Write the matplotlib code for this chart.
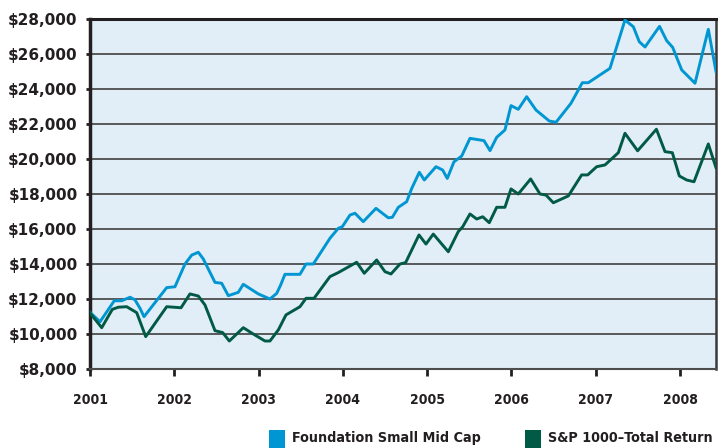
import matplotlib
matplotlib.use("Agg")
import matplotlib.pyplot as plt
from matplotlib import font_manager
from matplotlib.patches import Rectangle
from matplotlib.ticker import FuncFormatter

# growth of $10,000 style values (decimal year, dollars)
fund_t = [2001.000, 2001.119, 2001.288, 2001.376, 2001.475, 2001.534, 2001.593, 2001.641,
          2001.910, 2002.008, 2002.127, 2002.207, 2002.285, 2002.344, 2002.483, 2002.562,
          2002.641, 2002.759, 2002.819, 2002.997, 2003.135, 2003.215, 2003.262, 2003.313,
          2003.491, 2003.563, 2003.649, 2003.847, 2003.946, 2003.993, 2004.085, 2004.144,
          2004.242, 2004.393, 2004.539, 2004.587, 2004.658, 2004.757, 2004.817, 2004.907,
          2004.966, 2005.105, 2005.184, 2005.239, 2005.318, 2005.410, 2005.508, 2005.674,
          2005.746, 2005.825, 2005.923, 2005.995, 2006.081, 2006.181, 2006.291, 2006.449,
          2006.529, 2006.706, 2006.841, 2006.912, 2007.169, 2007.347, 2007.446, 2007.517,
          2007.585, 2007.757, 2007.842, 2007.913, 2008.020, 2008.178, 2008.336, 2008.427]
fund_v = [11240, 10700, 11900, 11900, 12100, 11950, 11470, 10990,
          12650, 12700, 14000, 14510, 14670, 14290, 12950, 12900,
          12190, 12380, 12840, 12290, 12000, 12320, 12800, 13410,
          13410, 14000, 14000, 15470, 16040, 16130, 16800, 16900,
          16420, 17180, 16640, 16670, 17240, 17560, 18320, 19240,
          18800, 19560, 19370, 18890, 19840, 20170, 21180, 21050,
          20480, 21240, 21660, 23050, 22840, 23560, 22800, 22170,
          22100, 23180, 24360, 24360, 25180, 27940, 27560, 26700,
          26400, 27580, 26760, 26380, 25090, 24330, 27410, 25000]

sp_t = [2001.000, 2001.139, 2001.265, 2001.336, 2001.435, 2001.554, 2001.661, 2001.910,
        2002.080, 2002.186, 2002.285, 2002.364, 2002.483, 2002.574, 2002.653, 2002.819,
        2002.937, 2003.076, 2003.135, 2003.234, 2003.325, 2003.491, 2003.563, 2003.658,
        2003.847, 2003.946, 2004.164, 2004.254, 2004.401, 2004.500, 2004.571, 2004.678,
        2004.745, 2004.903, 2004.986, 2005.073, 2005.251, 2005.369, 2005.422, 2005.508,
        2005.588, 2005.659, 2005.737, 2005.825, 2005.923, 2005.995, 2006.081, 2006.228,
        2006.339, 2006.410, 2006.497, 2006.675, 2006.833, 2006.905, 2007.011, 2007.110,
        2007.268, 2007.347, 2007.497, 2007.720, 2007.822, 2007.909, 2007.992, 2008.079,
        2008.166, 2008.336, 2008.427]
sp_v = [11200, 10360, 11410, 11530, 11560, 11220, 9850, 11560,
        11500, 12290, 12170, 11660, 10190, 10080, 9600, 10360,
        10000, 9600, 9600, 10230, 11090, 11560, 12040, 12040,
        13280, 13510, 14100, 13470, 14230, 13560, 13430, 14000,
        14080, 15660, 15140, 15710, 14700, 15850, 16130, 16860,
        16570, 16700, 16360, 17240, 17240, 18290, 18000, 18860,
        18000, 17940, 17500, 17890, 19090, 19090, 19560, 19660,
        20360, 21470, 20470, 21700, 20420, 20360, 19030, 18800,
        18700, 20860, 19500]

years = [2001, 2002, 2003, 2004, 2005, 2006, 2007, 2008]
y_ticks = [8000, 10000, 12000, 14000, 16000, 18000, 20000, 22000, 24000, 26000, 28000]
labels = ["Foundation Small Mid Cap", "S&P 1000\u2013Total Return"]
colors = ["#0096D2", "#005A45"]

# pick a narrow bold face for the year labels and legend
names = {f.name for f in font_manager.fontManager.ttflist}
cond = [f for f in font_manager.fontManager.ttflist
        if f.name == "DejaVu Sans" and f.stretch in ("condensed", 300)]
if "Liberation Sans Narrow" in names:
    narrow = dict(family="Liberation Sans Narrow")
    xfs, lfs = 12, 12
elif cond:
    narrow = dict(family="DejaVu Sans", stretch="condensed")
    xfs, lfs = 10, 10.3
else:
    narrow = dict(family="Roboto")
    xfs, lfs = 10.5, 11

fig = plt.figure(figsize=(7.19, 4.48), dpi=100)
ax = fig.add_axes([90/719, 1-369/448, 626/719, 350/448])
ax.set_facecolor("#E1EDF7")

ax.plot(fund_t, fund_v, color=colors[0], lw=2.1, zorder=3)
ax.plot(sp_t, sp_v, color=colors[1], lw=2.1, zorder=3)

ax.set_xlim(2001, 2008.427)
ax.set_ylim(8000, 28000)
ax.set_yticks(y_ticks)
ax.yaxis.set_major_formatter(FuncFormatter(lambda v, p: "${:,.0f}".format(v)))
ax.set_xticks(years)
ax.set_xticklabels([str(y) for y in years])
ax.grid(axis="y", color="#4d4d4d", lw=1.3, zorder=1)
ax.set_axisbelow(True)

for lab in ax.get_yticklabels():
    lab.set_fontweight("bold")
    lab.set_fontsize(11)
    lab.set_color("#231f20")
for lab in ax.get_xticklabels():
    lab.set_fontproperties(font_manager.FontProperties(weight="bold", size=xfs, **narrow))
    lab.set_color("#231f20")

ax.tick_params(axis="y", length=3, width=2, pad=6, color="#231f20")
ax.tick_params(axis="x", length=5, width=2, pad=12, color="#231f20")

ax.spines["left"].set_linewidth(2.5)
ax.spines["left"].set_color("#231f20")
ax.spines["top"].set_linewidth(2.2)
ax.spines["top"].set_color("#231f20")
ax.spines["right"].set_linewidth(1.8)
ax.spines["right"].set_color("#3a3a3a")
ax.spines["bottom"].set_linewidth(1.5)
ax.spines["bottom"].set_color("#4d4d4d")

# legend below the plot
sq = [269/719, 525/719]
tx = [292/719, 548/719]
for i in range(2):
    fig.patches.append(Rectangle((sq[i], 0), 16/719, 18/448, transform=fig.transFigure,
                                 facecolor=colors[i], edgecolor="none"))
    fig.text(tx[i], 1-438/448, labels[i], fontweight="bold", fontsize=lfs,
             color="#231f20", va="center", ha="left", **narrow)

fig.savefig("out.png", dpi=100)
